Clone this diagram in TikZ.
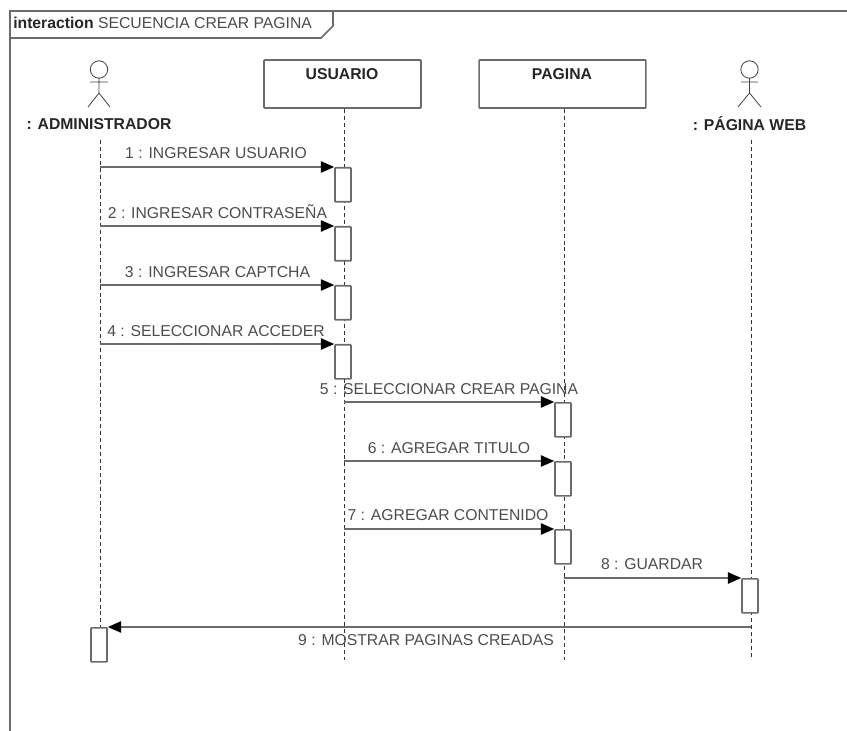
\documentclass[tikz,border=0pt]{standalone}
\usepackage{fontspec}
\setmainfont{Liberation Sans}
\usetikzlibrary{arrows.meta, positioning}
\definecolor{linegray}{gray}{0.42}
\definecolor{textgray}{gray}{0.3}
\tikzset{
  lifebox/.style={draw=linegray, line width=1.2pt, fill=white, minimum width=117.75pt, minimum height=36pt, rounded corners=0.5pt},
  lifeline/.style={draw=black!80, line width=0.7pt, dash pattern=on 3pt off 2.2pt},
  activation/.style={draw=linegray, line width=1.2pt, fill=white, minimum width=12pt, minimum height=25.5pt, inner sep=0pt, rounded corners=0.5pt},
  message/.style={draw=linegray, line width=1.2pt, -{Triangle[length=10pt,width=8.5pt,black]}},
  msglabel/.style={text=textgray, font=\fontsize{11.8}{14}\selectfont, inner sep=1pt},
  actorlabel/.style={text=black!85, font=\fontsize{11.8}{14}\selectfont\bfseries, inner sep=1pt},
  stickman/.style={draw=black!75, line width=0.6pt}
}
\begin{document}
\begin{tikzpicture}[x=0.75pt, y=-0.75pt]
  \useasboundingbox (0,0) rectangle (847,731);

  % outer frame
  \draw[linegray, line width=1.2pt] (10,731) -- (10,11) -- (847,11);
  \draw[linegray, line width=1.2pt] (10,38) -- (321,38) -- (333,26) -- (333,11);
  \node[text=textgray, font=\fontsize{11.8}{14}\selectfont, anchor=base west, inner sep=0pt] (title) at (13,29) {\textcolor{black!85}{\bfseries interaction} SECUENCIA CREAR PAGINA};

  % lifeline heads
  \node[lifebox] (usuario) at (342.5,84) {};
  \node[lifebox, minimum width=125pt] (pagina) at (562.5,84) {};
  \node[actorlabel] (admin) at (99,124) {: ADMINISTRADOR};
  \node[actorlabel] (web) at (749.5,124) {: PÁGINA WEB};
  \node[actorlabel, anchor=base] (usuariotxt) at (342,80) {USUARIO};
  \node[actorlabel, anchor=base] (paginatxt) at (562,80) {PAGINA};

  % stick figures
  \draw[stickman] (99,69.5) circle (8.7);
  \draw[stickman] (99,78) -- (99,93) (90,82) -- (108,82) (88,107) -- (99,93) -- (110,107);
  \draw[stickman] (749.5,69.5) circle (8.7);
  \draw[stickman] (749.5,78) -- (749.5,93) (741,82) -- (758,82) (738,107) -- (749.5,93) -- (761,107);

  % lifelines
  \coordinate (adminend) at (100,660);
  \coordinate (usuarioend) at (344,660);
  \coordinate (paginaend) at (564,660);
  \coordinate (webend) at (751,660);
  \coordinate (adminstart) at (100,140);
  \coordinate (webstart) at (751,140);
  \draw[lifeline] (adminstart) -- (adminend);
  \draw[lifeline] (usuario.south -| usuarioend) -- (usuarioend);
  \draw[lifeline] (pagina.south -| paginaend) -- (paginaend);
  \draw[lifeline] (webstart) -- (webend);

  % activations
  \node[activation, anchor=north] (a1) at (343,167) {};
  \node[activation, anchor=north] (a2) at (343,226) {};
  \node[activation, anchor=north] (a3) at (343,285) {};
  \node[activation, anchor=north] (a4) at (343,344) {};
  \node[activation, anchor=north] (a5) at (563,402) {};
  \node[activation, anchor=north] (a6) at (563,461) {};
  \node[activation, anchor=north] (a7) at (563,529) {};
  \node[activation, anchor=north] (a8) at (750,578) {};
  \node[activation, anchor=north] (a9) at (99,627) {};

  % messages
  \draw[message] (adminstart |- a1.north) -- (a1.north west);
  \draw[message] (adminstart |- a2.north) -- (a2.north west);
  \draw[message] (adminstart |- a3.north) -- (a3.north west);
  \draw[message] (adminstart |- a4.north) -- (a4.north west);
  \draw[message] (usuarioend |- a5.north) -- (a5.north west);
  \draw[message] (usuarioend |- a6.north) -- (a6.north west);
  \draw[message] (usuarioend |- a7.north) -- (a7.north west);
  \draw[message] (paginaend |- a8.north) -- (a8.north west);
  \draw[message] (webend |- a9.north) -- (a9.north east);

  % message labels
  \node[msglabel] (m1) at (216,153) {1 : INGRESAR USUARIO};
  \node[msglabel] (m2) at (217.5,212) {2 : INGRESAR CONTRASEÑA};
  \node[msglabel] (m3) at (217.5,272) {3 : INGRESAR CAPTCHA};
  \node[msglabel] (m4) at (216,331) {4 : SELECCIONAR ACCEDER};
  \node[msglabel] (m5) at (449,389) {5 : SELECCIONAR CREAR PAGINA};
  \node[msglabel] (m6) at (449,448) {6 : AGREGAR TITULO};
  \node[msglabel] (m7) at (448,515) {7 : AGREGAR CONTENIDO};
  \node[msglabel] (m8) at (652,564) {8 : GUARDAR};
  \node[msglabel] (m9) at (426,640) {9 : MOSTRAR PAGINAS CREADAS};
\end{tikzpicture}
\end{document}
